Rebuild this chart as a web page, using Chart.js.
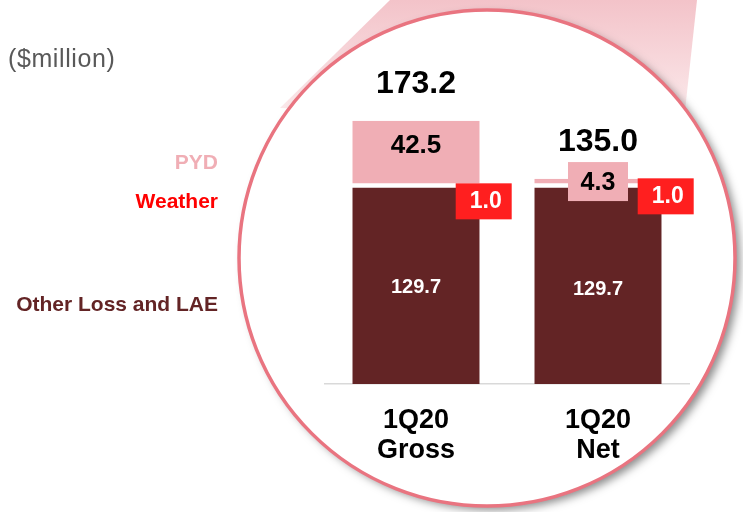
<!DOCTYPE html>
<html>
<head>
<meta charset="utf-8">
<script src="https://cdn.jsdelivr.net/npm/chart.js@4/dist/chart.umd.min.js"></script>
<style>
  body { margin: 0; background: #fff; font-family: "Liberation Sans", Arial, sans-serif; }
  #wrap { position: relative; width: 743px; height: 512px; overflow: hidden; }
  canvas { position: absolute; left: 0; top: 0; }
  .lbl { position: absolute; font-weight: bold; font-size: 21px; white-space: nowrap; }
  #unit { position: absolute; left: 8px; top: 44px; font-size: 25px; color: #595959; letter-spacing: 0.6px; }
</style>
</head>
<body>
<div id="wrap">
  <canvas id="chart" width="743" height="512"></canvas>
  <div id="unit">($million)</div>
  <div class="lbl" style="right:525px; top:150px; color:#F0AEB5;">PYD</div>
  <div class="lbl" style="right:525px; top:189px; color:#FF0000;">Weather</div>
  <div class="lbl" style="right:525px; top:292px; color:#632425;">Other Loss and LAE</div>
</div>
<script>
const categories = [['1Q20', 'Gross'], ['1Q20', 'Net']];
const otherLoss = [129.7, 129.7];
const weather = [1.0, 1.0];
const pyd = [42.5, 4.3];
const totals = [173.2, 135.0];

const MAROON = '#632425';
const PINK = '#F0AEB5';
const RED = '#FF1F1F';
const FONT = '"Liberation Sans", Arial, sans-serif';

// magnifier circle with the pink callout wedge behind it
const lensPlugin = {
  id: 'lens',
  beforeDraw(chart) {
    const ctx = chart.ctx;
    const cx = 487, cy = 258, r = 248;
    ctx.save();
    const g = ctx.createLinearGradient(0, 0, 0, 110);
    g.addColorStop(0, '#F3C3C9');
    g.addColorStop(1, '#FBE8EA');
    ctx.fillStyle = g;
    ctx.beginPath();
    ctx.moveTo(390, 0);
    ctx.lineTo(697, 0);
    ctx.lineTo(684, 120);
    ctx.lineTo(280, 108);
    ctx.closePath();
    ctx.fill();

    ctx.shadowColor = 'rgba(0,0,0,0.45)';
    ctx.shadowBlur = 9;
    ctx.shadowOffsetX = 5;
    ctx.shadowOffsetY = 4;
    ctx.fillStyle = '#fff';
    ctx.beginPath();
    ctx.arc(cx, cy, r, 0, Math.PI * 2);
    ctx.fill();
    ctx.shadowColor = 'transparent';
    ctx.lineWidth = 3.5;
    ctx.strokeStyle = '#E97480';
    ctx.stroke();
    ctx.restore();
  }
};

function box(ctx, x, y, w, h, color) {
  ctx.fillStyle = color;
  ctx.fillRect(x, y, w, h);
}

function text(ctx, str, x, y, size, color) {
  ctx.font = 'bold ' + size + 'px ' + FONT;
  ctx.fillStyle = color;
  ctx.textAlign = 'center';
  ctx.textBaseline = 'middle';
  ctx.fillText(str, x, y);
}

const valuePlugin = {
  id: 'values',
  afterDatasetsDraw(chart) {
    const ctx = chart.ctx;
    const base = chart.getDatasetMeta(0).data;
    const wx = chart.getDatasetMeta(1).data;
    const top = chart.getDatasetMeta(2).data;
    const weatherShift = [-2, -7];
    ctx.save();
    base.forEach((bar, i) => {
      text(ctx, otherLoss[i].toFixed(1), bar.x, (bar.y + bar.base) / 2 + 2 + i * 2, 20, '#fff');

      const p = top[i];
      const mid = (p.y + p.base) / 2;
      if (p.base - p.y > 30) {
        text(ctx, pyd[i].toFixed(1), p.x, mid - 7, 26, '#000');
      } else {
        box(ctx, p.x - 30, mid - 20, 60, 39, PINK);
        text(ctx, pyd[i].toFixed(1), p.x, mid + 1, 25, '#000');
      }

      const w = wx[i];
      const right = w.x + w.width / 2;
      const by = w.y + weatherShift[i];
      box(ctx, right - 24, by, 56, 36, RED);
      text(ctx, weather[i].toFixed(1), right + 6, by + 18, 23, '#fff');

      text(ctx, totals[i].toFixed(1), p.x, p.y - 37, 32, '#000');
    });
    ctx.restore();
  }
};

new Chart(document.getElementById('chart'), {
  type: 'bar',
  data: {
    labels: categories,
    datasets: [
      { label: 'Other Loss and LAE', data: otherLoss, backgroundColor: MAROON,
        borderColor: '#fff', borderWidth: { top: 1 }, borderSkipped: false },
      { label: 'Weather', data: weather, backgroundColor: '#fff' },
      { label: 'PYD', data: pyd, backgroundColor: PINK,
        borderColor: '#fff', borderWidth: { bottom: 2 }, borderSkipped: false }
    ]
  },
  options: {
    responsive: false,
    animation: false,
    events: [],
    layout: { padding: { left: 325, right: 54, top: 80, bottom: 0 } },
    datasets: { bar: { categoryPercentage: 1, barPercentage: 0.7 } },
    plugins: { legend: { display: false }, tooltip: { enabled: false } },
    scales: {
      x: {
        stacked: true,
        grid: { display: false },
        border: { display: true, color: '#D9D9D9', width: 1.5 },
        afterFit(scale) { scale.height = 128; },
        ticks: {
          color: '#000',
          padding: 13,
          font: { family: FONT, size: 27, weight: 'bold', lineHeight: 1.13 }
        }
      },
      y: { stacked: true, display: false, min: 0, max: 200 }
    }
  },
  plugins: [lensPlugin, valuePlugin]
});
</script>
</body>
</html>
